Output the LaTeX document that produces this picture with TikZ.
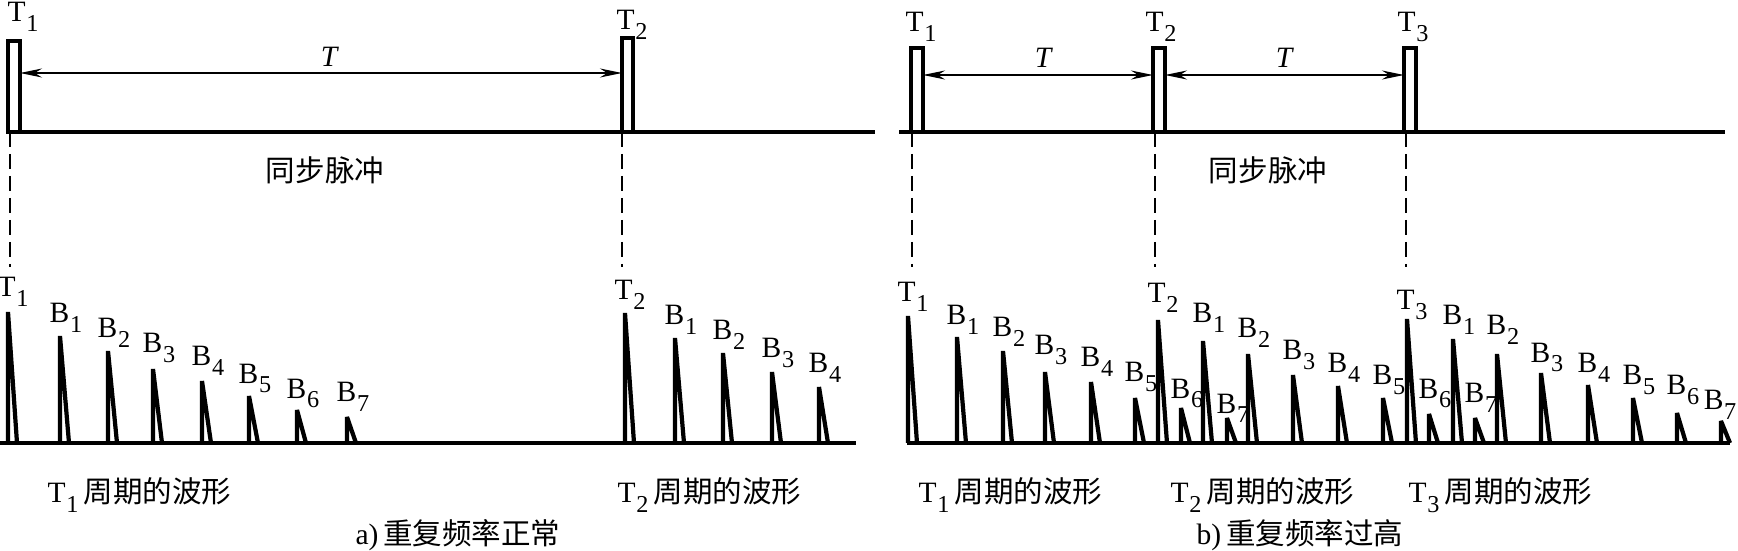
\documentclass[tikz,border=0pt]{standalone}
\usepackage{fontspec}
\setmainfont{Liberation Serif}
\newfontfamily\cjk{Noto Sans CJK SC}
\usepackage{tikz}
\usetikzlibrary{arrows.meta,positioning,calc}

% letter with a large, low index
\newcommand\sbs[2]{#1\kern0.2pt\raisebox{-0.32em}{\fontsize{6.9}{7}\selectfont #2}}
\newcommand\zh[1]{{\cjk\fontsize{8.4}{10}\selectfont #1}}

\begin{document}
\begin{tikzpicture}[x=0.1mm,y=-0.1mm,
    spike/.style={line width=1.2pt,line join=bevel},
    axisline/.style={line width=1.1pt},
    pulse/.style={line width=0.9pt},
    guide/.style={line width=0.5pt,dash pattern=on 1.5mm off 0.7mm},
    period/.style={line width=0.4pt,
      {Stealth[length=2.2mm,width=0.9mm]}-{Stealth[length=2.2mm,width=0.9mm]}},
    lbl/.style={inner sep=0pt,font=\fontsize{8.4}{10}\selectfont}]
  \useasboundingbox (0,0) rectangle (1738,551);

  % ---- a) top: sync pulses
  \draw[axisline] (8,132) -- (875,132);
  \draw[pulse] (8,132) rectangle (20,41);
  \draw[axisline] (8,41) -- (20,41);
  \draw[pulse] (622,132) rectangle (633,38);
  \draw[axisline] (622,38) -- (633,38);
  \coordinate (pa1) at (20,73);
  \coordinate (pa2) at (622,73);
  \draw[period] (pa1) -- (pa2);
  \node[lbl,anchor=base] (ta) at (330,67) {\textit{T}};
  \node[lbl,anchor=base west] (ha1) at (7,22) {\sbs{T}{1}};
  \node[lbl,anchor=base west] (ha2) at (616,30) {\sbs{T}{2}};
  \node[inner sep=0pt] (synca) at (325,170) {\zh{同步脉冲}};
  \coordinate (da1) at (10,267);
  \coordinate (da2) at (622,267);
  \draw[guide] (10,132) -- (da1);
  \draw[guide] (622,132) -- (da2);

  % ---- a) bottom: echoes
  \draw[axisline] (0,443) -- (856,443);
  \foreach \x/\h/\b/\t/\s in {8/312/297/T/1, 60/336/323/B/1, 108/351/338/B/2,
      153/369/353/B/3, 202/381/366/B/4, 249/396/383/B/5, 297/410/398/B/6,
      347/417/402/B/7, 625/313/300/T/2, 675/338/325/B/1, 723/353/340/B/2,
      772/372/358/B/3, 819/387/373/B/4}{
    \draw[spike] (\x,443) -- (\x,\h) -- (\x+9,443);
    \node[lbl,anchor=base west] (ea\x) at (\x-11,\b) {\sbs{\t}{\s}};
  }
  \node[lbl,anchor=base west] (wa1) at (47,503) {\sbs{T}{1}\,\zh{周期的波形}};
  \node[lbl,anchor=base west] (wa2) at (617,503) {\sbs{T}{2}\,\zh{周期的波形}};
  \node[lbl] (capa) at (458,535) {a)\,\zh{重复频率正常}};

  % ---- b) top: sync pulses
  \draw[axisline] (899,132) -- (1725,132);
  \foreach \x in {911,1153,1404}{
    \draw[pulse] (\x,132) rectangle (\x+12,48);
    \draw[axisline] (\x,48) -- (\x+12,48);
  }
  \coordinate (pb1) at (923,75);
  \coordinate (pb2l) at (1153,75);
  \coordinate (pb2r) at (1165,75);
  \coordinate (pb3) at (1404,75);
  \draw[period] (pb1) -- (pb2l);
  \draw[period] (pb2r) -- (pb3);
  \node[lbl,anchor=base] (tb1) at (1044,68) {\textit{T}};
  \node[lbl,anchor=base] (tb2) at (1285,68) {\textit{T}};
  \node[lbl,anchor=base west] (hb1) at (905,32) {\sbs{T}{1}};
  \node[lbl,anchor=base west] (hb2) at (1145,32) {\sbs{T}{2}};
  \node[lbl,anchor=base west] (hb3) at (1397,32) {\sbs{T}{3}};
  \node[inner sep=0pt] (syncb) at (1268,170) {\zh{同步脉冲}};
  \foreach \x in {912,1155,1406}{
    \coordinate (db\x) at (\x,267);
    \draw[guide] (\x,132) -- (db\x);
  }

  % ---- b) bottom: echoes overlap the next period
  \draw[axisline] (907,443) -- (1730,443);
  \foreach \x/\h/\b/\t/\s in {908/316/302/T/1, 957/337/325/B/1, 1003/351/337/B/2,
      1045/372/355/B/3, 1091/382/367/B/4, 1135/398/382/B/5, 1158/320/303/T/2,
      1181/408/398/B/6, 1203/341/323/B/1, 1227/418/413/B/7, 1248/354/338/B/2,
      1293/375/360/B/3, 1338/386/373/B/4, 1383/398/385/B/5, 1407/319/310/T/3,
      1429/414/398/B/6, 1453/339/325/B/1, 1475/418/403/B/7, 1497/354/335/B/2,
      1541/373/362/B/3, 1588/385/373/B/4, 1633/398/385/B/5, 1677/413/395/B/6}{
    \draw[spike] (\x,443) -- (\x,\h) -- (\x+9,443);
    \node[lbl,anchor=base west] (eb\x) at (\x-11,\b) {\sbs{\t}{\s}};
  }
  % last echo, label kept inside the edge
  \draw[spike] (1721,443) -- (1721,421) -- (1730,443);
  \node[lbl,anchor=base east] (eblast) at (1737,410) {\sbs{B}{7}};
  \node[lbl,anchor=base west] (wb1) at (918,503) {\sbs{T}{1}\,\zh{周期的波形}};
  \node[lbl,anchor=base west] (wb2) at (1170,503) {\sbs{T}{2}\,\zh{周期的波形}};
  \node[lbl,anchor=base west] (wb3) at (1408,503) {\sbs{T}{3}\,\zh{周期的波形}};
  \node[lbl] (capb) at (1300,535) {b)\,\zh{重复频率过高}};
\end{tikzpicture}
\end{document}
